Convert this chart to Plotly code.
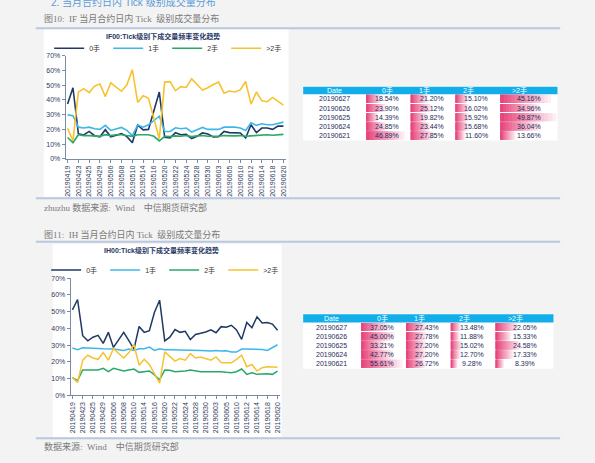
import plotly.graph_objects as go

W, H = 595, 463

# 交易日
dates = ["20190419", "20190422", "20190423", "20190424", "20190425", "20190426",
         "20190429", "20190430", "20190506", "20190507", "20190508", "20190509",
         "20190510", "20190513", "20190514", "20190515", "20190516", "20190517",
         "20190520", "20190521", "20190522", "20190523", "20190524", "20190527",
         "20190528", "20190529", "20190530", "20190531", "20190603", "20190604",
         "20190605", "20190606", "20190610", "20190611", "20190612", "20190613",
         "20190614", "20190617", "20190618", "20190619", "20190620"]

# IF00 各档成交占比(%)
if_0 = [37.1, 48.2, 17.1, 16.2, 18.6, 15.7, 15.0, 19.8, 15.0, 15.9, 17.1, 15.1, 10.9, 23.0,
        19.7, 20.0, 32.0, 45.3, 14.6, 14.2, 17.8, 16.4, 16.6, 13.8, 15.3, 17.6, 16.9, 14.9,
        15.1, 18.6, 17.8, 17.6, 17.6, 14.2, 23.1, 17.8, 20.9, 20.9, 20.0, 22.2, 22.2]
if_1 = [29.8, 29.3, 21.5, 20.9, 21.5, 20.4, 20.0, 22.7, 19.3, 20.4, 21.3, 19.3, 15.8, 23.0,
        21.5, 23.1, 26.0, 28.9, 18.6, 18.6, 21.1, 20.4, 20.9, 18.2, 19.8, 21.3, 20.0, 20.0,
        20.0, 21.5, 21.5, 21.5, 20.9, 19.3, 24.4, 22.7, 23.8, 23.1, 23.1, 23.8, 24.9]
if_2 = [14.5, 11.0, 16.4, 15.8, 15.8, 15.8, 15.3, 16.4, 15.8, 16.4, 16.4, 15.8, 15.3, 16.4,
        16.4, 16.4, 15.3, 12.2, 15.3, 15.1, 15.6, 15.3, 15.8, 15.1, 15.6, 15.8, 15.3, 15.1,
        15.3, 15.8, 15.6, 15.6, 15.8, 15.3, 15.6, 16.0, 16.2, 16.4, 16.0, 16.2, 16.6]
if_3 = [20.7, 12.3, 45.3, 47.6, 44.9, 49.3, 50.7, 42.2, 51.5, 48.9, 45.8, 50.2, 60.4, 38.2,
        42.7, 41.0, 27.0, 13.7, 52.0, 52.3, 46.2, 48.9, 48.4, 54.2, 50.4, 46.6, 48.2, 50.4,
        52.0, 44.4, 46.0, 45.3, 46.7, 52.4, 37.1, 45.3, 39.3, 38.7, 41.6, 38.7, 36.4]

# IH00 各档成交占比(%)
ih_0 = [51.0, 57.2, 35.6, 32.5, 34.7, 35.8, 31.0, 37.6, 28.6, 33.0, 37.6, 32.7, 27.6, 41.1,
        37.6, 38.6, 49.6, 56.8, 32.5, 34.7, 39.3, 37.6, 38.2, 33.3, 36.3, 37.0, 37.8, 39.1,
        37.4, 41.0, 40.6, 41.8, 39.0, 33.4, 43.5, 40.4, 46.9, 43.2, 43.5, 42.5, 38.8]
ih_1 = [28.2, 27.2, 28.4, 28.4, 28.2, 28.0, 27.8, 27.8, 27.6, 27.2, 26.8, 27.6, 26.8, 27.8,
        27.8, 28.8, 26.8, 27.8, 27.2, 27.2, 27.2, 26.8, 27.0, 27.0, 27.0, 26.8, 26.6, 26.4,
        26.8, 26.4, 26.6, 25.9, 25.8, 27.6, 27.6, 27.6, 27.2, 27.4, 26.8, 28.4, 30.2]
ih_2 = [10.6, 8.8, 15.1, 15.1, 15.1, 15.1, 16.1, 14.1, 16.1, 15.1, 14.5, 15.1, 15.7, 13.7,
        14.1, 14.5, 12.2, 9.2, 15.1, 14.9, 14.1, 14.1, 14.5, 15.1, 14.5, 14.1, 14.1, 14.1,
        14.5, 14.1, 13.7, 13.5, 14.1, 15.7, 12.5, 13.5, 12.5, 12.9, 12.9, 12.5, 14.5]
ih_3 = [10.6, 7.6, 21.0, 23.9, 22.3, 21.5, 25.5, 21.0, 27.8, 24.9, 22.3, 25.5, 30.2, 18.0,
        21.5, 18.4, 12.5, 7.2, 25.9, 22.9, 20.4, 21.9, 21.0, 24.9, 22.3, 22.9, 21.9, 21.0,
        22.9, 19.6, 19.4, 19.4, 21.5, 23.9, 17.1, 18.4, 14.5, 16.5, 17.1, 17.1, 16.7]

# 右侧表格
tbl_dates = ["20190627", "20190626", "20190625", "20190624", "20190621"]
tbl_heads = ["Date", "0手", "1手", "2手", ">2手"]
if_t0 = [18.54, 23.90, 14.39, 24.85, 46.89]
if_t1 = [21.20, 25.12, 19.82, 23.44, 27.85]
if_t2 = [15.10, 16.02, 15.92, 15.68, 11.60]
if_t3 = [45.16, 34.96, 49.87, 36.04, 13.66]
ih_t0 = [37.05, 45.00, 33.21, 42.77, 55.61]
ih_t1 = [27.43, 27.78, 27.20, 27.20, 26.72]
ih_t2 = [13.48, 11.88, 15.02, 12.70, 9.28]
ih_t3 = [22.05, 15.33, 24.58, 17.33, 8.39]

names = ["0手", "1手", "2手", ">2手"]
colors = ["#1f3864", "#3db7e9", "#2aa868", "#f6c230"]

SANS = "Liberation Sans, Noto Sans CJK SC"
SERIF = "Liberation Serif, Noto Sans CJK SC"
BG = "#f3f3f3"
RULE = "#b8c8df"


def fx(x):
    return x / W


def fy(y):
    return 1 - y / H


fig = go.Figure()
shapes = []
annos = []

# ---- 折线图 ----
for s, nm, c in zip([if_0, if_1, if_2, if_3], names, colors):
    fig.add_trace(go.Scatter(x=dates, y=s, mode="lines", name=nm, xaxis="x", yaxis="y",
                             line=dict(color=c, width=1.6), legend="legend"))
for s, nm, c in zip([ih_0, ih_1, ih_2, ih_3], names, colors):
    fig.add_trace(go.Scatter(x=dates, y=s, mode="lines", name=nm, xaxis="x2", yaxis="y2",
                             line=dict(color=c, width=1.5), legend="legend2"))


def line_axes(xdom, ydom, xname, yname):
    ax = dict(domain=xdom, type="category", range=[-0.35, 40.4], tickvals=dates[::2],
              tickangle=-90, tickfont=dict(size=7, color="#2f3b5c", family=SANS),
              showline=True, linecolor="#7d8aa3", ticks="outside", ticklen=3,
              tickcolor="#7d8aa3", showgrid=False, anchor=yname)
    ay = dict(domain=ydom, range=[0, 70], dtick=10, ticksuffix="%",
              tickfont=dict(size=7, color="#2f3b5c", family=SANS),
              showline=True, linecolor="#7d8aa3", ticks="outside", ticklen=3,
              tickcolor="#7d8aa3", showgrid=False, zeroline=False, anchor=xname)
    return ax, ay


ax1, ay1 = line_axes([fx(64), fx(285)], [fy(157.3), fy(52.3)], "x", "y")
ax2, ay2 = line_axes([fx(69), fx(279)], [fy(397.3), fy(278.3)], "x2", "y2")

# 白色底板
for (x0, y0, x1, y1) in [(42, 25, 288, 196), (51, 244, 281, 440),
                         (302.7, 83.5, 558.3, 138.5), (302.7, 314.5, 554.3, 370.3)]:
    shapes.append(dict(type="rect", xref="paper", yref="paper", x0=fx(x0), x1=fx(x1),
                       y0=fy(y1), y1=fy(y0), fillcolor="white", line_width=0, layer="below"))
# 分隔线
for yy in [24.5, 197.2, 241.5, 441]:
    shapes.append(dict(type="line", xref="paper", yref="paper", x0=fx(34), x1=fx(561),
                       y0=fy(yy), y1=fy(yy), line=dict(color=RULE, width=2)))


# 文字
def text(x, y, s, size=9, color="#7a7a7a", family=SERIF, anchor="left", bold=False):
    annos.append(dict(xref="paper", yref="paper", x=fx(x), y=fy(y),
                      text=f"<b>{s}</b>" if bold else s,
                      showarrow=False, xanchor=anchor, yanchor="middle",
                      font=dict(size=size, color=color, family=family)))


text(47, -2.5, "2. 当月合约日内 Tick 级别成交量分布", size=10, color="#5b9bd5", family=SANS)
text(40, 15, "图10:  IF 当月合约日内 Tick  级别成交量分布")
text(40, 206.5, "zhuzhu 数据来源:  Wind    中信期货研究部")
text(40, 234.5, "图11:  IH 当月合约日内 Tick  级别成交量分布")
text(40, 449.5, "数据来源:  Wind    中信期货研究部")
text(162, 33, "IF00:Tick级别下成交量频率变化趋势", size=7, color="#1f3864", family=SANS,
     anchor="center", bold=True)
text(160, 250.5, "IH00:Tick级别下成交量频率变化趋势", size=7, color="#1f3864", family=SANS,
     anchor="center", bold=True)

# ---- 表格 (渐变数据条) ----
PINK = (231, 70, 124)
PALE = (253, 238, 244)
NSEG = 14
axes_extra = {}


def add_table(cols, xa_ids, ya_id, date_span, col_spans, head_y, body_y):
    tmax = max(max(c) for c in cols)
    axes_extra["yaxis" + ya_id[1:]] = dict(domain=[fy(body_y[1]), fy(body_y[0])], type="category",
                                           categoryorder="array", categoryarray=tbl_dates,
                                           range=[len(tbl_dates) - 0.5, -0.5], visible=False,
                                           anchor=xa_ids[0])
    for col, xa, (l, r) in zip(cols, xa_ids, col_spans):
        axes_extra["xaxis" + xa[1:]] = dict(domain=[fx(l), fx(r)], range=[0, tmax * 1.02],
                                            visible=False, anchor=ya_id)
        # 由长到短叠放: 越靠左颜色越深
        for j in range(NSEG):
            t = 1 - j / (NSEG - 1)
            rgb = tuple(round(a + (b - a) * t) for a, b in zip(PINK, PALE))
            frac = 1 - j / NSEG
            fig.add_trace(go.Bar(x=[v * frac for v in col], y=tbl_dates, orientation="h",
                                 xaxis=xa, yaxis=ya_id, showlegend=False, hoverinfo="skip",
                                 marker=dict(color="rgb(%d,%d,%d)" % rgb, line_width=0)))
        for i, v in enumerate(col):
            annos.append(dict(xref=xa + " domain", yref=ya_id, x=0.5, y=i, text=f"{v:.2f}%",
                              showarrow=False, font=dict(size=7, color="#262c5a", family=SANS)))
    for i, d in enumerate(tbl_dates):
        annos.append(dict(xref="paper", yref=ya_id, x=fx((date_span[0] + date_span[1]) / 2), y=i,
                          text=d, showarrow=False, font=dict(size=7, color="#262c5a", family=SANS)))
    # 表头
    shapes.append(dict(type="rect", xref="paper", yref="paper", x0=fx(date_span[0]),
                       x1=fx(col_spans[-1][1]), y0=fy(head_y[1]), y1=fy(head_y[0]),
                       fillcolor="#12aeea", line_width=0))
    centers = [(date_span[0] + date_span[1]) / 2] + [(l + r) / 2 for l, r in col_spans]
    for cx, h in zip(centers, tbl_heads):
        annos.append(dict(xref="paper", yref="paper", x=fx(cx), y=fy((head_y[0] + head_y[1]) / 2),
                          text=h, showarrow=False, yanchor="middle",
                          font=dict(size=7, color="white", family=SANS)))


add_table([if_t0, if_t1, if_t2, if_t3], ["x3", "x4", "x5", "x6"], "y3", (302.7, 366),
          [(366, 408.3), (410.7, 453), (455.7, 498), (500.7, 558.3)], (84, 91.7), (91.7, 138.3))
add_table([ih_t0, ih_t1, ih_t2, ih_t3], ["x7", "x8", "x9", "x10"], "y4", (302.7, 360),
          [(361, 403.3), (406, 448.3), (451, 493.3), (496, 554.3)], (315, 323.3), (323.3, 370))

leg = dict(orientation="h", xanchor="center", yanchor="middle", bgcolor="rgba(0,0,0,0)",
           font=dict(size=7, color="#333333", family=SANS), itemwidth=30, tracegroupgap=0,
           traceorder="normal")

fig.update_layout(
    width=W, height=H, margin=dict(l=0, r=0, t=0, b=0),
    paper_bgcolor=BG, plot_bgcolor="rgba(0,0,0,0)",
    barmode="overlay", bargap=0.12,
    xaxis=ax1, yaxis=ay1, xaxis2=ax2, yaxis2=ay2,
    legend=dict(leg, x=fx(166), y=fy(45), entrywidth=14),
    legend2=dict(leg, x=fx(163), y=fy(270), entrywidth=14),
    shapes=shapes, annotations=annos,
    **axes_extra,
)

fig.write_html("out.html", config={"displayModeBar": False},
               post_script="document.body.style.margin='0';"
                           "document.body.style.background='#f3f3f3';")
